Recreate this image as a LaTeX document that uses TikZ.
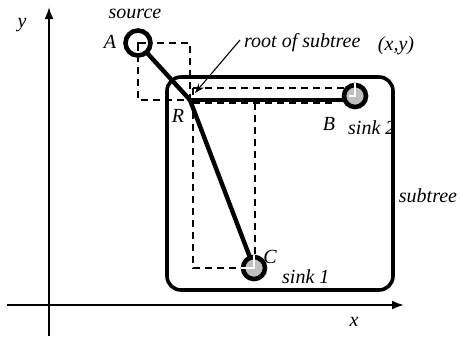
\documentclass[tikz,border=0pt]{standalone}
\usepackage{fontspec}
\setmainfont{Liberation Serif}
\usetikzlibrary{arrows.meta}
\begin{document}
\begin{tikzpicture}[x=1pt,y=-1pt,
  lbl/.style={font=\fontsize{20}{22}\selectfont\itshape, inner sep=0pt},
  term/.style={circle, draw, line width=4.6pt, inner sep=0pt},
  srcc/.style={term, fill=white, minimum size=25pt},
  sinkc/.style={term, fill=gray!50, minimum size=22pt},
  wire/.style={line width=4.4pt},
  bbox/.style={line width=2.3pt, dash pattern=on 7pt off 5pt},
  axisline/.style={line width=2pt},
  subtreebox/.style={line width=3.6pt, rounded corners=14pt},
]
\useasboundingbox (0,0) rectangle (460,341);

% axes
\coordinate (O) at (49,305);
\coordinate (ytop) at (49,7);
\coordinate (ybot) at (49,336);
\coordinate (xleft) at (7,305);
\coordinate (xright) at (404,305);
\draw[axisline] (ybot) -- (O);
\draw[axisline, -{Latex[length=12pt,width=9pt]}] (O) -- (ytop);
\draw[axisline] (xleft) -- (O);
\draw[axisline, -{Latex[length=12pt,width=9pt]}] (O) -- (xright);
\node[lbl] (ylab) at (22,25) {y};
\node[lbl] (xlab) at (354,322) {x};

% key points
\coordinate (R) at (190,100);
\coordinate (Apos) at (138,43);
\coordinate (Bpos) at (355,96);
\coordinate (Cpos) at (254,268);

% bounding boxes (dashed)
\draw[bbox] (Apos) rectangle (R);
\draw[bbox] (193,103) -- (336,103);
\draw[bbox] (193,88) -- (346,88);
\draw[bbox] (193,88) -- (193,268) -- (Cpos);
\draw[bbox] (255,103) -- (255,258);

% subtree
\draw[subtreebox] (167,77) rectangle (393,290);

% wires
\draw[wire] (Apos) -- (R);
\draw[wire] (R) -- (Cpos);
\draw[wire] (R) -- (R -| Bpos);

% terminals
\node[srcc] (A) at (Apos) {};
\draw[line width=2.3pt] (A.center) ++(0,8) -- (A.center) -- ++(8,0);
\node[sinkc] (B) at (Bpos) {};
\draw[white, line width=1.4pt] (B.north) -- (B.center) -- ++(-6,0);
\node[sinkc] (C) at (Cpos) {};
\draw[white, line width=1.4pt] (C.north) -- (C.center) -- (C.west);

% labels
\node[lbl] (srclab) at (135,14) {source};
\node[lbl] (Alab) at (110,42) {A};
\node[lbl, anchor=west] (rootlab) at (244,43) {root of subtree};
\node[lbl] (xylab) at (396,46) {(x,y)};
\node[lbl] (Rlab) at (178,116) {R};
\node[lbl] (Blab) at (329,124) {B};
\node[lbl, anchor=west] (s2lab) at (348,128) {sink 2};
\node[lbl] (stlab) at (428,196) {subtree};
\node[lbl] (Clab) at (270,257) {C};
\node[lbl, anchor=west] (s1lab) at (282,277) {sink 1};

\coordinate (arrtip) at (195,93);
\draw[line width=1.1pt, -{Stealth[length=10pt,width=7pt]}] (rootlab.west) ++(-4,-3) -- (arrtip);
\end{tikzpicture}
\end{document}
